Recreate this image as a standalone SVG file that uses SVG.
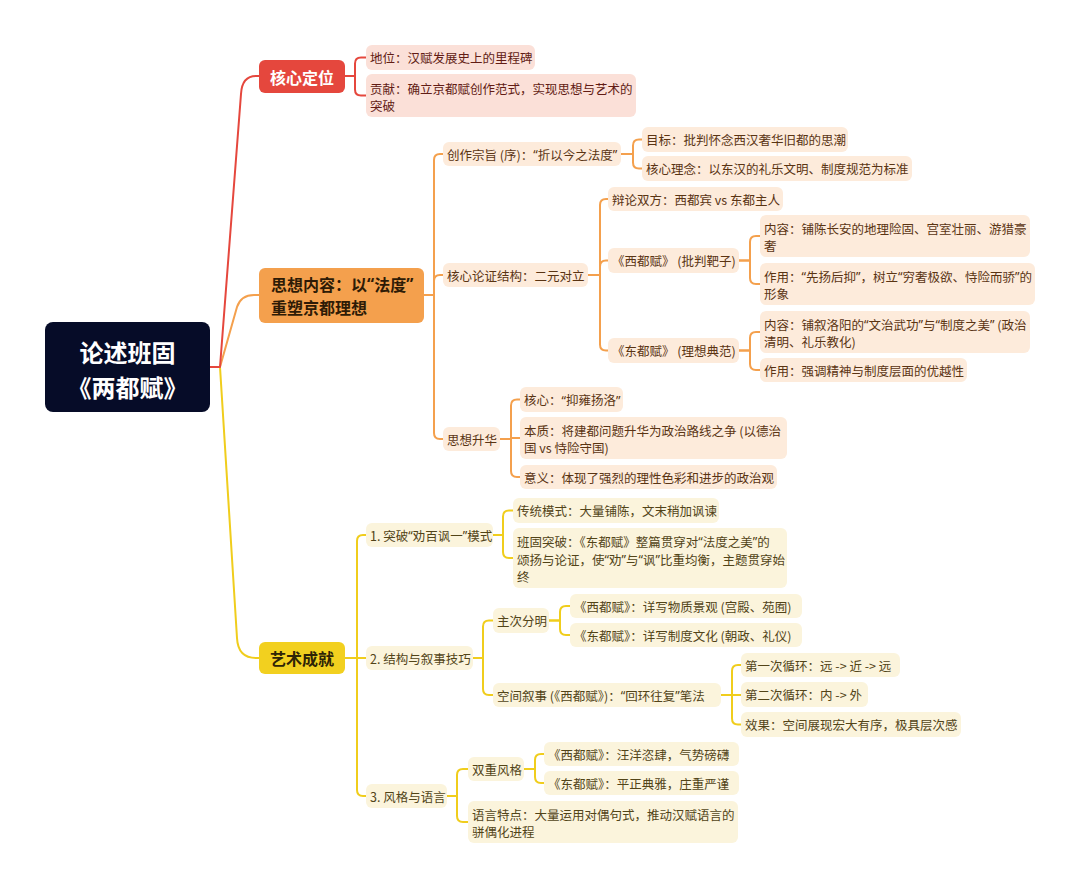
<svg xmlns="http://www.w3.org/2000/svg" width="1080" height="888" viewBox="0 0 1080 888">
<style>
.t{font-family:"Noto Sans CJK SC","Noto Sans",sans-serif;font-size:12.5px;dominant-baseline:central}
.h{font-family:"Noto Sans CJK SC","Noto Sans",sans-serif;font-size:16px;font-weight:700;dominant-baseline:central}
.q{font-family:"Noto Sans","Liberation Sans",sans-serif}
.tr{fill:#621c14}.to{fill:#5a3413}.ty{fill:#524418}
.br{fill:#fbe0d8}.bo{fill:#fdebdb}.by{fill:#fbf4dc}
.c path{fill:none;stroke-width:2;stroke-linecap:round;stroke-linejoin:round}
.cr path{stroke:#e5473d}.co path{stroke:#f4a04d}.cy path{stroke:#f0cd1c}
</style>
<rect width="1080" height="888" fill="#ffffff"/>
<g id="connectors" class="c">
<g class="cy">
<path d="M210,367 H220 L237,638 Q238,658 256,658 H259"/>
<path d="M345,658 H357 V541 Q357,535 363,535 H366"/>
<path d="M345,658 H366"/>
<path d="M345,658 H357 V790 Q357,796 363,796 H366"/>
<path d="M493,535 H503 V516.5 Q503,510.5 509,510.5 H513"/>
<path d="M493,535 H503 V552 Q503,558 509,558 H513"/>
<path d="M473,658 H483 V626.5 Q483,620.5 489,620.5 H493"/>
<path d="M473,658 H483 V689 Q483,695 489,695 H493"/>
<path d="M549,620.5 H560 V612 Q560,606 566,606 H570"/>
<path d="M549,620.5 H560 V629 Q560,635 566,635 H570"/>
<path d="M721,695 H732 V671 Q732,665 738,665 H741"/>
<path d="M721,695 H741"/>
<path d="M721,695 H732 V718.5 Q732,724.5 738,724.5 H741"/>
<path d="M447,796 H457 V775 Q457,769 463,769 H468"/>
<path d="M447,796 H457 V816 Q457,822 463,822 H468"/>
<path d="M524,769 H535 V760 Q535,754 541,754 H544"/>
<path d="M524,769 H535 V777 Q535,783 541,783 H544"/>
</g>
<g class="co">
<path d="M210,367 H220 L237,307 Q241,295 254,295 H259"/>
<path d="M424,295 H434 V160 Q434,154 440,154 H443"/>
<path d="M424,295 H434 V281 Q434,275 440,275 H443"/>
<path d="M424,295 H434 V433 Q434,439 440,439 H443"/>
<path d="M621,154 H633 V145.5 Q633,139.5 639,139.5 H642"/>
<path d="M621,154 H633 V162.5 Q633,168.5 639,168.5 H642"/>
<path d="M588,275 H600 V205 Q600,199 606,199 H608"/>
<path d="M588,275 H600 V266.5 Q600,260.5 606,260.5 H608"/>
<path d="M588,275 H600 V344.5 Q600,350.5 606,350.5 H608"/>
<path d="M739,260.5 H750 V242 Q750,236 756,236 H760"/>
<path d="M739,260.5 H750 V278 Q750,284 756,284 H760"/>
<path d="M739,350.5 H750 V338 Q750,332 756,332 H760"/>
<path d="M739,350.5 H750 V364 Q750,370 756,370 H760"/>
<path d="M500,439 H511 V405.5 Q511,399.5 517,399.5 H520"/>
<path d="M500,439 H511 V438 H520"/>
<path d="M500,439 H511 V471 Q511,477 517,477 H520"/>
</g>
<g class="cr">
<path d="M210,367 H220 L241,94 Q242,76 256,76 H259"/>
<path d="M345,76 H355 V63.5 Q355,57.5 361,57.5 H366"/>
<path d="M345,76 H355 V89.5 Q355,95.5 361,95.5 H366"/>
</g>
</g>

<g id="n-root">
<rect x="45" y="322" width="165" height="90" rx="8" fill="#060c28"/>
<text class="h" style="font-size:24px" fill="#ffffff" text-anchor="middle"><tspan x="127.5" y="351">论述班固</tspan><tspan x="127.5" y="386">《两都赋》</tspan></text>
</g>

<g id="n-hexindingwei">
<rect x="259" y="60" width="86" height="33" rx="6" fill="#e5473d"/>
<text class="h" x="302" y="76.5" fill="#ffffff" text-anchor="middle">核心定位</text>
</g>
<g id="n-diwei"><rect class="br" x="366" y="45" width="169" height="25" rx="6"/><text class="t tr" x="370" y="57.5">地位：汉赋发展史上的里程碑</text></g>
<g id="n-gongxian"><rect class="br" x="366" y="74" width="270" height="43" rx="6"/><text class="t tr"><tspan x="370" y="87.5">贡献：确立京都赋创作范式，实现思想与艺术的</tspan><tspan x="370" y="105">突破</tspan></text></g>

<g id="n-sixiang">
<rect x="259" y="268" width="165" height="55" rx="6" fill="#f4a04d"/>
<text class="h" fill="#2e1b06"><tspan x="271" y="284">思想内容：以<tspan class="q">“</tspan>法度<tspan class="q">”</tspan></tspan><tspan x="271" y="307">重塑京都理想</tspan></text>
</g>
<g id="n-chuangzuo"><rect class="bo" x="443" y="142" width="178" height="24" rx="6"/><text class="t to" x="447" y="154">创作宗旨 (序)：<tspan class="q">“</tspan>折以今之法度<tspan class="q">”</tspan></text></g>
<g id="n-mubiao"><rect class="bo" x="642" y="127" width="206" height="25" rx="6"/><text class="t to" x="646" y="139.5">目标：批判怀念西汉奢华旧都的思潮</text></g>
<g id="n-linian"><rect class="bo" x="642" y="156" width="270" height="25" rx="6"/><text class="t to" x="646" y="168.5">核心理念：以东汉的礼乐文明、制度规范为标准</text></g>
<g id="n-lunzheng"><rect class="bo" x="443" y="263" width="145" height="24" rx="6"/><text class="t to" x="447" y="275">核心论证结构：二元对立</text></g>
<g id="n-bianlun"><rect class="bo" x="608" y="187" width="175" height="24" rx="6"/><text class="t to" x="612" y="199">辩论双方：西都宾 vs 东都主人</text></g>
<g id="n-xidu"><rect class="bo" x="608" y="248" width="131" height="25" rx="6"/><text class="t to" x="612" y="260.5">《西都赋》 (批判靶子)</text></g>
<g id="n-xidu-neirong"><rect class="bo" x="760" y="215" width="270" height="42" rx="6"/><text class="t to"><tspan x="764" y="227.5">内容：铺陈长安的地理险固、宫室壮丽、游猎豪</tspan><tspan x="764" y="245">奢</tspan></text></g>
<g id="n-xidu-zuoyong"><rect class="bo" x="760" y="263" width="275" height="42" rx="6"/><text class="t to"><tspan x="764" y="275.5">作用：<tspan class="q">“</tspan>先扬后抑<tspan class="q">”</tspan>，树立<tspan class="q">“</tspan>穷奢极欲、恃险而骄<tspan class="q">”</tspan>的</tspan><tspan x="764" y="293">形象</tspan></text></g>
<g id="n-dongdu"><rect class="bo" x="608" y="338" width="131" height="25" rx="6"/><text class="t to" x="612" y="350.5">《东都赋》 (理想典范)</text></g>
<g id="n-dongdu-neirong"><rect class="bo" x="760" y="311" width="270" height="42" rx="6"/><text class="t to"><tspan x="764" y="323.5">内容：铺叙洛阳的<tspan class="q">“</tspan>文治武功<tspan class="q">”</tspan>与<tspan class="q">“</tspan>制度之美<tspan class="q">”</tspan> (政治</tspan><tspan x="764" y="341">清明、礼乐教化)</tspan></text></g>
<g id="n-dongdu-zuoyong"><rect class="bo" x="760" y="358" width="207" height="24" rx="6"/><text class="t to" x="764" y="370">作用：强调精神与制度层面的优越性</text></g>
<g id="n-shenghua"><rect class="bo" x="443" y="427" width="57" height="24" rx="6"/><text class="t to" x="447" y="439">思想升华</text></g>
<g id="n-hexin"><rect class="bo" x="520" y="387" width="103" height="25" rx="6"/><text class="t to" x="524" y="399.5">核心：<tspan class="q">“</tspan>抑雍扬洛<tspan class="q">”</tspan></text></g>
<g id="n-benzhi"><rect class="bo" x="520" y="417" width="267" height="42" rx="6"/><text class="t to"><tspan x="524" y="429.5">本质：将建都问题升华为政治路线之争 (以德治</tspan><tspan x="524" y="447">国 vs 恃险守国)</tspan></text></g>
<g id="n-yiyi"><rect class="bo" x="520" y="465" width="257" height="24" rx="6"/><text class="t to" x="524" y="477">意义：体现了强烈的理性色彩和进步的政治观</text></g>

<g id="n-yishu">
<rect x="259" y="642" width="86" height="32" rx="6" fill="#f2d01f"/>
<text class="h" x="302" y="658" fill="#2e2406" text-anchor="middle">艺术成就</text>
</g>
<g id="n-tupo"><rect class="by" x="366" y="523" width="127" height="24" rx="6"/><text class="t ty" x="370" y="535">1. 突破<tspan class="q">“</tspan>劝百讽一<tspan class="q">”</tspan>模式</text></g>
<g id="n-chuantong"><rect class="by" x="513" y="498" width="206" height="25" rx="6"/><text class="t ty" x="517" y="510.5">传统模式：大量铺陈，文末稍加讽谏</text></g>
<g id="n-bangu"><rect class="by" x="513" y="528" width="274" height="60" rx="6"/><text class="t ty"><tspan x="517" y="541">班固突破：《东都赋》整篇贯穿对<tspan class="q">“</tspan>法度之美<tspan class="q">”</tspan>的</tspan><tspan x="517" y="558.5">颂扬与论证，使<tspan class="q">“</tspan>劝<tspan class="q">”</tspan>与<tspan class="q">“</tspan>讽<tspan class="q">”</tspan>比重均衡，主题贯穿始</tspan><tspan x="517" y="576">终</tspan></text></g>
<g id="n-jiegou"><rect class="by" x="366" y="646" width="107" height="24" rx="6"/><text class="t ty" x="370" y="658">2. 结构与叙事技巧</text></g>
<g id="n-zhuci"><rect class="by" x="493" y="608" width="56" height="25" rx="6"/><text class="t ty" x="497" y="620.5">主次分明</text></g>
<g id="n-xiangxie-xi"><rect class="by" x="570" y="594" width="232" height="24" rx="6"/><text class="t ty" x="574" y="606">《西都赋》：详写物质景观 (宫殿、苑囿)</text></g>
<g id="n-xiangxie-dong"><rect class="by" x="570" y="623" width="232" height="24" rx="6"/><text class="t ty" x="574" y="635">《东都赋》：详写制度文化 (朝政、礼仪)</text></g>
<g id="n-kongjian"><rect class="by" x="493" y="683" width="228" height="24" rx="6"/><text class="t ty" x="497" y="695">空间叙事 (《西都赋》)：<tspan class="q">“</tspan>回环往复<tspan class="q">”</tspan>笔法</text></g>
<g id="n-xunhuan1"><rect class="by" x="741" y="653" width="159" height="24" rx="6"/><text class="t ty" x="745" y="665">第一次循环：远 -&gt; 近 -&gt; 远</text></g>
<g id="n-xunhuan2"><rect class="by" x="741" y="682" width="127" height="25" rx="6"/><text class="t ty" x="745" y="694.5">第二次循环：内 -&gt; 外</text></g>
<g id="n-xiaoguo"><rect class="by" x="741" y="712" width="220" height="25" rx="6"/><text class="t ty" x="745" y="724.5">效果：空间展现宏大有序，极具层次感</text></g>
<g id="n-fengge"><rect class="by" x="366" y="784" width="81" height="24" rx="6"/><text class="t ty" x="370" y="796">3. 风格与语言</text></g>
<g id="n-shuangzhong"><rect class="by" x="468" y="757" width="56" height="24" rx="6"/><text class="t ty" x="472" y="769">双重风格</text></g>
<g id="n-wangyang"><rect class="by" x="544" y="742" width="195" height="24" rx="6"/><text class="t ty" x="548" y="754">《西都赋》：汪洋恣肆，气势磅礴</text></g>
<g id="n-pingzheng"><rect class="by" x="544" y="771" width="195" height="24" rx="6"/><text class="t ty" x="548" y="783">《东都赋》：平正典雅，庄重严谨</text></g>
<g id="n-yuyan"><rect class="by" x="468" y="801" width="270" height="42" rx="6"/><text class="t ty"><tspan x="472" y="813.5">语言特点：大量运用对偶句式，推动汉赋语言的</tspan><tspan x="472" y="831">骈偶化进程</tspan></text></g>
</svg>
